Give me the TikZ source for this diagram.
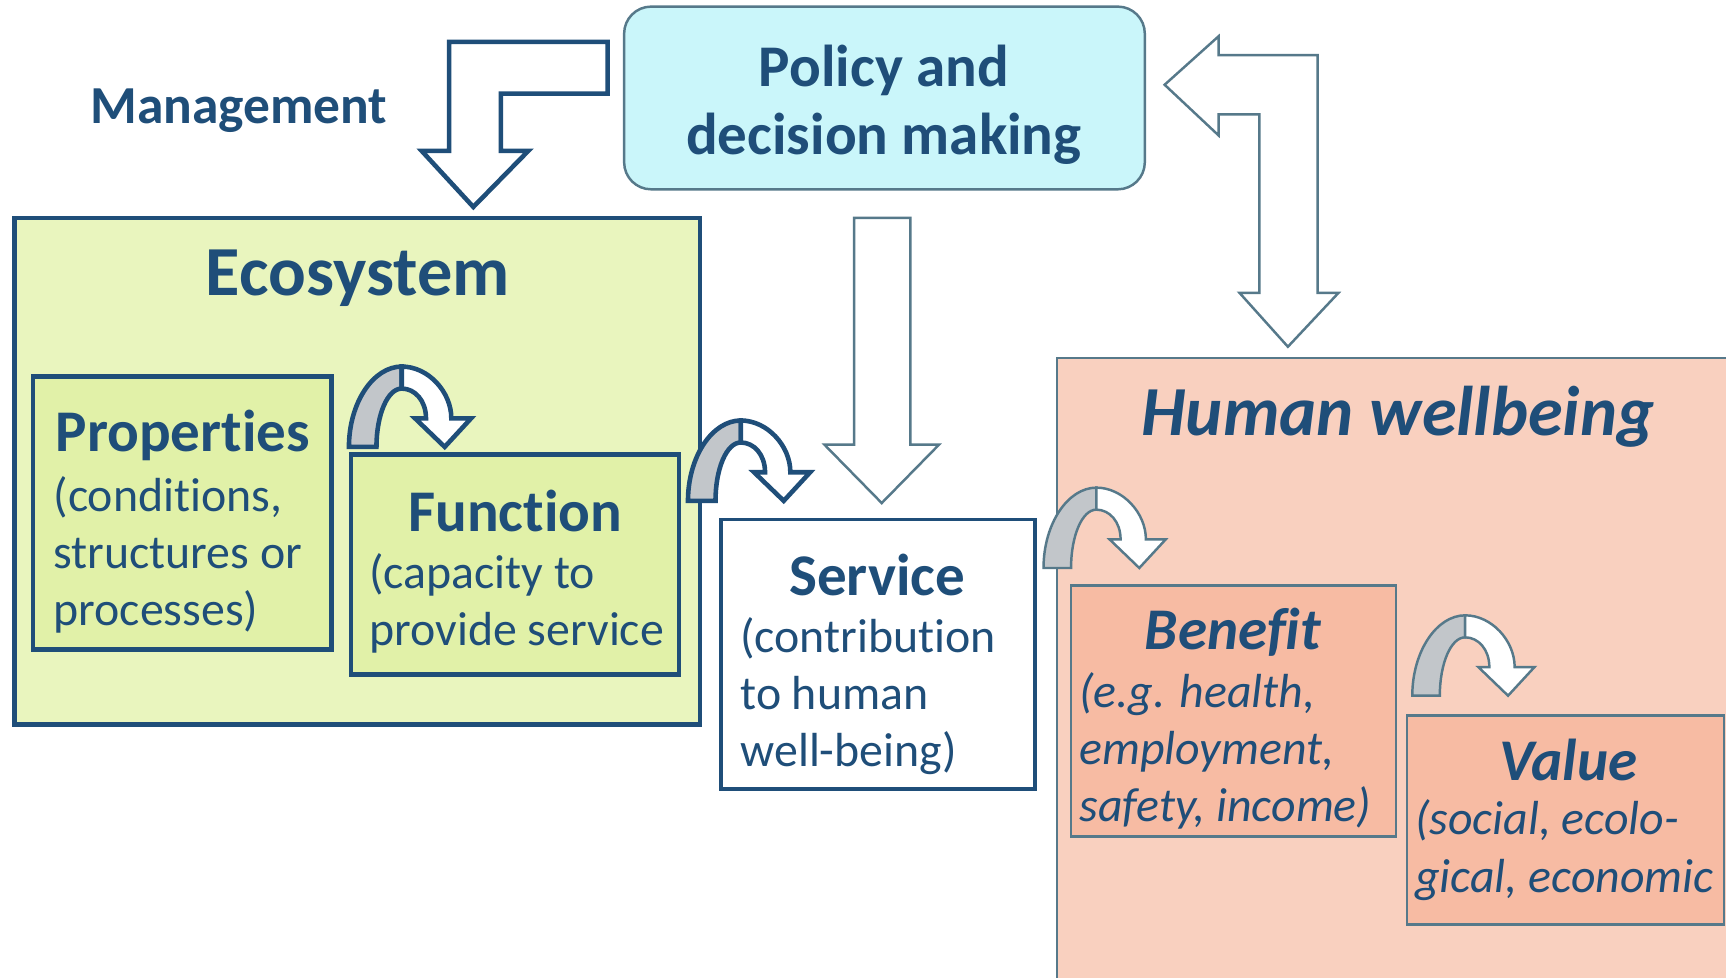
\documentclass[tikz,border=0pt]{standalone}
\usepackage{fontspec}
\setmainfont{Carlito}[Ligatures=NoCommon]
\usetikzlibrary{fit}

\definecolor{dkblue}{HTML}{1F4E79}
\definecolor{slate}{HTML}{56798A}
\definecolor{ecogreen}{HTML}{E9F5BE}
\definecolor{subgreen}{HTML}{E1F1A8}
\definecolor{polcyan}{HTML}{CAF6FA}
\definecolor{humpink}{HTML}{F9D0BF}
\definecolor{benpink}{HTML}{F7BBA3}
\definecolor{bandgray}{HTML}{C2C6CA}

% curved block arrow: left foot x, y, outline style
\newcommand{\bendarrow}[3]{%
  \begin{scope}[shift={(#1,#2)}]
    \filldraw[#3, fill=bandgray] (0,0) .. controls (0,-40) and (22,-73) .. (48,-73) -- (48,-53) .. controls (35,-53) and (25,-29) .. (25,0) -- cycle;
    \filldraw[#3, fill=white] (48,-73) .. controls (72,-73) and (93,-50) .. (93,-26) -- (111,-26) -- (87,0) -- (60,-26) -- (70,-26) .. controls (70,-42) and (60,-53) .. (48,-53) -- cycle;
  \end{scope}}

\begin{document}
\begin{tikzpicture}[x=0.011008cm, y=-0.011008cm]
%define
\tikzstyle{box_dark} = [rectangle, draw=dkblue, line width=1.3pt, inner sep=0pt]
\tikzstyle{box_thin} = [rectangle, draw=slate, line width=0.7pt, inner sep=0pt]
\tikzstyle{title_l} = [text=dkblue, font=\fontsize{20}{24}\selectfont\bfseries, inner sep=0pt]
\tikzstyle{title_li} = [text=dkblue, font=\fontsize{20}{24}\selectfont\bfseries\itshape, inner sep=0pt]
\tikzstyle{title_m} = [text=dkblue, font=\fontsize{16.8}{19.4}\selectfont\bfseries, inner sep=0pt, align=center]
\tikzstyle{title_mi} = [text=dkblue, font=\fontsize{16.8}{19.4}\selectfont\bfseries\itshape, inner sep=0pt]
\tikzstyle{note_txt} = [text=dkblue, font=\fontsize{13.6}{16.3}\selectfont, inner sep=0pt, align=left, anchor=north west]
\tikzstyle{note_it} = [text=dkblue, font=\fontsize{13.6}{16.3}\selectfont\itshape, inner sep=0pt, align=left, anchor=north west]
\tikzstyle{arrow_dark} = [draw=dkblue, line width=1.3pt]
\tikzstyle{arrow_thin} = [draw=slate, line width=0.7pt]

%page
\clip (0,0) rectangle (1568,888);
\fill[white] (0,0) rectangle (1568,888);

%blocks
\node[box_dark, fill=ecogreen, fit={(13,198) (636,658)}] (eco) {};
\node[box_dark, fill=subgreen, fit={(30,342) (301,590)}] (prop) {};
\node[box_dark, fill=subgreen, fit={(319,413) (617,613)}] (func) {};
\node[box_dark, fill=white, line width=1.1pt, fit={(655,472) (940,717)}] (serv) {};
\node[box_thin, fill=polcyan, rounded corners=0.27cm, fit={(567,6) (1040,172)}] (pol) {};
\node[box_thin, fill=humpink, fit={(960,325) (1600,920)}] (hum) {};
\node[box_thin, fill=benpink, fit={(973,532) (1268,760)}] (ben) {};
\node[box_thin, fill=benpink, fit={(1278,650) (1566,840)}] (val) {};

%texts
\node[title_m, font=\fontsize{15.2}{18}\selectfont\bfseries] (mgmt) at (217,101) {Management};
\node[title_m] (pol_txt) at (803,95) {Policy and\\decision making};
\node[title_l] (eco_txt) at (325,253) {Ecosystem};
\node[title_m] (prop_txt) at (166,396) {Properties};
\node[note_txt] (prop_note) at (48,432) {(conditions,\\structures or\\processes)};
\node[title_m] (func_txt) at (468,464) {Function};
\node[note_txt] (func_note) at (335,502) {(capacity to\\provide service};
\node[title_m] (serv_txt) at (797,522) {Service};
\node[note_txt] (serv_note) at (672,560) {(contribution\\to human\\well-being)};
\node[title_li] (hum_txt) at (1270,379) {Human wellbeing};
\node[title_mi] (ben_txt) at (1120,574) {Benefit};
\node[note_it] (ben_note) at (980,610) {(e.g. health,\\employment,\\safety, income)};
\node[title_mi] (val_txt) at (1425,690) {Value};
\node[note_it] (val_note) at (1285,726) {(social, ecolo-\\gical, economic};

%arrows
\draw[arrow_dark, fill=white] (552,38) -- (408,38) -- (408,137) -- (383,137) -- (430,188) -- (480,137) -- (455,137) -- (455,85) -- (552,85) -- cycle; %Management
\draw[arrow_thin, fill=white] (1058,77) -- (1107,33) -- (1107,50) -- (1197,50) -- (1197,266) -- (1216,266) -- (1170,315) -- (1126,266) -- (1144,266) -- (1144,104) -- (1107,104) -- (1107,123) -- cycle; %Policy<->Human
\draw[arrow_thin, fill=white] (776,198) -- (827,198) -- (827,404) -- (853,404) -- (801,457) -- (749,404) -- (776,404) -- cycle; %Policy->Service
\bendarrow{317}{406}{arrow_dark} %Properties->Function
\bendarrow{625}{455}{arrow_dark} %Function->Service
\bendarrow{948}{516}{arrow_thin} %Service->Benefit
\bendarrow{1283}{632}{arrow_thin} %Benefit->Value

\end{tikzpicture}
\end{document}
